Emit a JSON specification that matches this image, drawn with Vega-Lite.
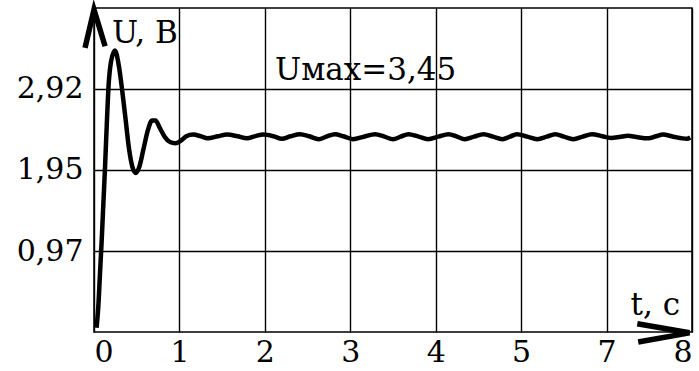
{
  "$schema": "https://vega.github.io/schema/vega-lite/v6.json",
  "width": 598,
  "height": 324,
  "autosize": {"type": "none"},
  "padding": {"left": 94, "top": 8, "right": 7, "bottom": 39},
  "background": "white",
  "config": {
    "font": "DejaVu Serif",
    "view": {"stroke": "#000", "strokeWidth": 1.5},
    "axis": {"gridColor": "#000", "gridOpacity": 1, "gridWidth": 1.4, "domain": false, "ticks": false, "labelColor": "#000", "labelFont": "DejaVu Serif"}
  },
  "datasets": {
    "curve": [
      {"t": 0.03, "u": 0.05}, {"t": 0.05, "u": 0.3}, {"t": 0.07, "u": 0.7}, {"t": 0.09, "u": 1.1},
      {"t": 0.11, "u": 1.55}, {"t": 0.13, "u": 2.0}, {"t": 0.15, "u": 2.5}, {"t": 0.17, "u": 2.95},
      {"t": 0.2, "u": 3.25}, {"t": 0.245, "u": 3.38}, {"t": 0.29, "u": 3.2}, {"t": 0.33, "u": 2.9},
      {"t": 0.37, "u": 2.55}, {"t": 0.41, "u": 2.2}, {"t": 0.45, "u": 1.98}, {"t": 0.49, "u": 1.91},
      {"t": 0.53, "u": 1.98}, {"t": 0.58, "u": 2.2}, {"t": 0.63, "u": 2.42}, {"t": 0.68, "u": 2.54},
      {"t": 0.72, "u": 2.54}, {"t": 0.77, "u": 2.45}, {"t": 0.83, "u": 2.34}, {"t": 0.89, "u": 2.28},
      {"t": 0.95, "u": 2.265}, {"t": 1.02, "u": 2.3}, {"t": 1.08, "u": 2.35}, {"t": 1.16, "u": 2.37},
      {"t": 1.25, "u": 2.35}, {"t": 1.33, "u": 2.325}, {"t": 1.45, "u": 2.35}, {"t": 1.56, "u": 2.37},
      {"t": 1.68, "u": 2.35}, {"t": 1.79, "u": 2.325}, {"t": 1.9, "u": 2.355}, {"t": 1.98, "u": 2.37},
      {"t": 2.1, "u": 2.35}, {"t": 2.2, "u": 2.32}, {"t": 2.3, "u": 2.35}, {"t": 2.41, "u": 2.375},
      {"t": 2.52, "u": 2.35}, {"t": 2.63, "u": 2.315}, {"t": 2.72, "u": 2.345}, {"t": 2.82, "u": 2.375},
      {"t": 2.92, "u": 2.35}, {"t": 3.03, "u": 2.315}, {"t": 3.16, "u": 2.345}, {"t": 3.29, "u": 2.375},
      {"t": 3.4, "u": 2.345}, {"t": 3.5, "u": 2.315}, {"t": 3.59, "u": 2.345}, {"t": 3.68, "u": 2.375},
      {"t": 3.8, "u": 2.345}, {"t": 3.91, "u": 2.315}, {"t": 4.03, "u": 2.345}, {"t": 4.15, "u": 2.375},
      {"t": 4.25, "u": 2.345}, {"t": 4.34, "u": 2.315}, {"t": 4.45, "u": 2.345}, {"t": 4.56, "u": 2.375},
      {"t": 4.67, "u": 2.345}, {"t": 4.78, "u": 2.315}, {"t": 4.87, "u": 2.345}, {"t": 4.95, "u": 2.375},
      {"t": 5.07, "u": 2.345}, {"t": 5.19, "u": 2.315}, {"t": 5.3, "u": 2.345}, {"t": 5.4, "u": 2.375},
      {"t": 5.5, "u": 2.345}, {"t": 5.61, "u": 2.315}, {"t": 5.72, "u": 2.345}, {"t": 5.83, "u": 2.375},
      {"t": 5.95, "u": 2.35}, {"t": 6.05, "u": 2.33}, {"t": 6.15, "u": 2.34}, {"t": 6.25, "u": 2.355},
      {"t": 6.35, "u": 2.34}, {"t": 6.49, "u": 2.325}, {"t": 6.58, "u": 2.35}, {"t": 6.66, "u": 2.37},
      {"t": 6.78, "u": 2.345}, {"t": 6.94, "u": 2.32}, {"t": 6.98, "u": 2.335}
    ],
    "arrows": [
      {"arrow": "y", "i": 1, "t": -0.105, "u": 3.41},
      {"arrow": "y", "i": 2, "t": 0.0, "u": 3.87},
      {"arrow": "y", "i": 3, "t": 0.13, "u": 3.43},
      {"arrow": "x", "i": 1, "t": 6.36, "u": 0.1},
      {"arrow": "x", "i": 2, "t": 6.97, "u": -0.01},
      {"arrow": "x", "i": 3, "t": 6.37, "u": -0.12}
    ]
  },
  "layer": [
    {
      "data": {"name": "curve"},
      "mark": {"type": "line", "color": "#000", "strokeWidth": 4.5, "interpolate": "monotone"},
      "encoding": {
        "x": {
          "field": "t", "type": "quantitative",
          "scale": {"domain": [0, 7], "nice": false, "zero": false},
          "axis": {"title": null, "values": [0, 1, 2, 3, 4, 5, 6, 7], "labelFontSize": 30, "labelPadding": 5, "labelExpr": "datum.value >= 6 ? datum.value + 1 : datum.value"}
        },
        "y": {
          "field": "u", "type": "quantitative",
          "scale": {"domain": [0, 3.89], "nice": false, "zero": false},
          "axis": {"title": null, "values": [0.97, 1.95, 2.92], "labelFontSize": 30, "labelPadding": 11, "labelExpr": "replace(format(datum.value, '.2f'), '.', ',')"}
        },
        "order": {"field": "t", "type": "quantitative"}
      }
    },
    {
      "data": {"name": "arrows"},
      "mark": {"type": "line", "color": "#000", "strokeWidth": 5.5, "strokeJoin": "miter", "clip": false},
      "encoding": {
        "x": {"field": "t", "type": "quantitative"},
        "y": {"field": "u", "type": "quantitative"},
        "detail": {"field": "arrow"},
        "order": {"field": "i", "type": "quantitative"}
      }
    },
    {
      "data": {"values": [{"t": 0.21, "u": 3.47, "label": "U, В"}, {"t": 6.28, "u": 0.2, "label": "t, с"}]},
      "mark": {"type": "text", "align": "left", "baseline": "alphabetic", "font": "DejaVu Serif", "fontSize": 31, "color": "#000"},
      "encoding": {
        "x": {"field": "t", "type": "quantitative"},
        "y": {"field": "u", "type": "quantitative"},
        "text": {"field": "label"}
      }
    },
    {
      "data": {"values": [{"t": 2.12, "u": 3.02, "label": "Uмах=3,45"}]},
      "mark": {"type": "text", "align": "left", "baseline": "alphabetic", "font": "DejaVu Serif", "fontSize": 31, "color": "#000"},
      "encoding": {
        "x": {"field": "t", "type": "quantitative"},
        "y": {"field": "u", "type": "quantitative"},
        "text": {"field": "label"}
      }
    }
  ]
}
